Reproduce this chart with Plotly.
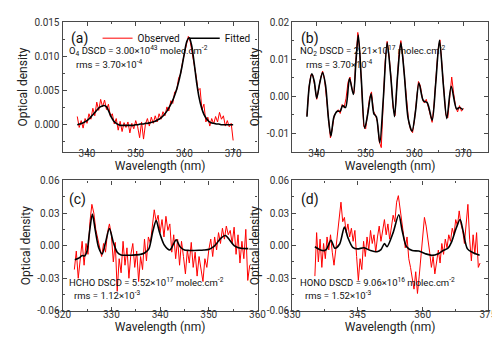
import numpy as np
import plotly.graph_objects as go
from plotly.subplots import make_subplots

# ---- panel (a): O4 ----
a_obs = [0.0012, -0.0004, 0.0006, -0.0005, 0.0009, 0.0002, 0.0016, 0.0008, 0.0024, 0.0013,
         0.0033, 0.0021, 0.0037, 0.0026, 0.0036, 0.0022, 0.0030, 0.0012, 0.0016, 0.0001,
         0.0009, -0.0008, 0.0005, -0.0010, 0.0003, -0.0004, 0.0004, -0.0012, 0.0002, -0.0006,
         0.0006, -0.0003, -0.0019, 0.0004, -0.0021, 0.0001, 0.0009, -0.0002, 0.0011, 0.0002,
         0.0013, 0.0004, 0.0016, 0.0008, 0.0019, 0.0013, 0.0026, 0.0020, 0.0035, 0.0031,
         0.0048, 0.0050, 0.0068, 0.0074, 0.0091, 0.0104, 0.0121, 0.0129, 0.0121, 0.0106,
         0.0086, 0.0071, 0.0050, 0.0053, 0.0022, 0.0030, 0.0004, 0.0011, -0.0002, 0.0009,
         0.0001, 0.0012, 0.0004, 0.0018, 0.0008, 0.0013, -0.0002, 0.0006, -0.0003, 0.0002,
         -0.0023]
a_fit = [0.0000, 0.0001, 0.0002, 0.0004, 0.0006, 0.0009, 0.0013, 0.0017, 0.0021, 0.0025,
         0.0027, 0.0028, 0.0026, 0.0019, 0.0011, 0.0005, 0.0002, 0.0000, -0.0001, -0.0001,
         -0.0001, -0.0001, -0.0001, -0.0001, 0.0000, 0.0000, 0.0001, 0.0001, 0.0002, 0.0002,
         0.0003, 0.0004, 0.0005, 0.0007, 0.0009, 0.0012, 0.0016, 0.0021, 0.0027, 0.0034,
         0.0043, 0.0054, 0.0068, 0.0085, 0.0105, 0.0122, 0.0127, 0.0115, 0.0090, 0.0062,
         0.0040, 0.0025, 0.0015, 0.0009, 0.0005, 0.0003, 0.0002, 0.0001, 0.0001, 0.0000,
         0.0000, 0.0000, 0.0000, 0.0000, 0.0000]
a_obs_x = np.linspace(338, 370, len(a_obs))
a_fit_x = np.linspace(338, 370, len(a_fit))

# ---- panel (b): NO2 ----
b_obs = [-0.0052, 0.0022, 0.0058, 0.0057, 0.0028, -0.0008, 0.0020, 0.0050, 0.0068, 0.0045,
         -0.0005, -0.0062, -0.0112, -0.0085, -0.0050, -0.0043, -0.0036, -0.0046, -0.0022, -0.0030,
         -0.0005, 0.0038, 0.0052, 0.0020, 0.0008, 0.0095, 0.0172, 0.0120, 0.0030, -0.0080,
         -0.0088, -0.0048, -0.0005, 0.0012, -0.0040, -0.0050, -0.0068, -0.0122, -0.0138, -0.0015,
         0.0095, 0.0148, 0.0110, 0.0048, -0.0030, -0.0052, 0.0035, 0.0112, 0.0150, 0.0108,
         0.0045, -0.0020, -0.0068, -0.0090, -0.0098, -0.0062, -0.0005, 0.0040, 0.0028, -0.0005,
         -0.0018, -0.0008, -0.0028, -0.0050, -0.0070, -0.0020, 0.0045, 0.0125, 0.0152, 0.0080,
         0.0015, -0.0050, -0.0058, 0.0010, 0.0052, 0.0008, -0.0028, -0.0042, -0.0025, -0.0040,
         -0.0032]
b_obs_x = np.linspace(338, 370, len(b_obs))
b_fit_x = [338.0, 338.5, 339.0, 339.5, 340.0, 340.6, 341.2, 341.8, 342.4, 342.9,
           343.5, 344.2, 344.8, 345.3, 345.9, 346.7, 347.5, 348.0, 348.5, 349.1,
           349.8, 350.4, 351.1, 351.7, 352.2, 352.9, 353.6, 354.4, 355.1, 355.9,
           356.5, 357.2, 357.9, 358.7, 359.5, 360.2, 360.9, 361.8, 362.6, 363.6,
           364.3, 365.1, 365.9, 366.6, 367.5, 368.6, 369.2, 369.9]
b_fit = [-0.0055, 0.0030, 0.0061, 0.0040, -0.0005, 0.0035, 0.0064, 0.0030, -0.0060, -0.0107,
         -0.0056, -0.0040, -0.0040, -0.0025, -0.0030, 0.0048, 0.0005, 0.0090, 0.0165, 0.0050,
         -0.0086, -0.0050, 0.0007, -0.0047, -0.0055, -0.0125, -0.0010, 0.0144, 0.0060, -0.0055,
         0.0050, 0.0144, 0.0060, -0.0060, -0.0094, -0.0040, 0.0036, -0.0012, -0.0017, -0.0064,
         0.0030, 0.0151, 0.0030, -0.0060, 0.0027, -0.0034, -0.0030, -0.0036]

# ---- panel (c): HCHO ----
c_obs = [-0.022, -0.005, -0.030, -0.012, 0.004, -0.018, 0.002, -0.008, 0.022, 0.038,
         0.030, 0.015, 0.006, -0.004, -0.010, 0.002, -0.006, 0.012, 0.020, 0.010,
         -0.015, 0.003, -0.042, -0.012, -0.025, 0.004, -0.018, -0.002, -0.030, -0.008,
         0.002, -0.020, -0.005, -0.033, -0.010, -0.022, 0.006, -0.014, 0.008, 0.002,
         0.018, 0.033, 0.022, 0.028, 0.012, 0.024, 0.008, 0.027, 0.014, 0.020,
         -0.006, 0.010, -0.012, 0.006, -0.018, 0.004, -0.010, -0.026, -0.004, -0.016,
         0.003, -0.020, -0.006, -0.028, -0.010, -0.022, -0.033, -0.012, -0.020, -0.004,
         0.006, -0.010, 0.008, -0.004, 0.012, 0.002, 0.016, 0.006, 0.018, 0.010,
         0.014, 0.002, 0.017, -0.008, 0.010, -0.016, 0.004, -0.012, 0.015, -0.032,
         -0.018]
c_obs_x = np.linspace(322.4, 358.4, len(c_obs))
c_fit_x = [322.5, 323.5, 324.0, 324.5, 325.0, 325.5, 326.1, 326.7, 327.4, 328.1,
           328.8, 329.6, 330.4, 331.2, 332.0, 333.0, 334.0, 335.0, 336.0, 336.9,
           337.7, 338.5, 339.2, 339.9, 340.9, 342.0, 342.7, 343.3, 344.1, 345.0,
           346.0, 347.0, 348.0, 349.0, 350.1, 351.0, 351.6, 352.5, 353.4, 354.3,
           355.2, 356.1, 357.0, 358.1]
c_fit = [-0.013, -0.011, -0.009, -0.0095, -0.005, 0.012, 0.029, 0.014, -0.002, -0.0077,
         0.003, 0.0157, 0.003, -0.006, -0.0085, -0.0088, -0.0088, -0.0085, -0.008, -0.0065,
         -0.003, 0.013, 0.023, 0.012, 0.0003, -0.004, 0.001, 0.0055, -0.001, -0.004,
         -0.0044, -0.0044, -0.0043, -0.004, -0.0033, -0.001, 0.002, 0.007, 0.0093, 0.005,
         0.000, -0.002, -0.0026, -0.0027]

# ---- panel (d): HONO ----
d_obs = [-0.028, 0.012, -0.015, 0.006, -0.020, 0.002, -0.012, 0.008, -0.004, 0.010,
         -0.006, -0.018, -0.004, 0.012, 0.030, 0.040, 0.022, 0.026, 0.012, 0.020,
         0.008, 0.016, 0.004, 0.014, -0.010, -0.032, -0.012, -0.022, 0.004, -0.010,
         0.008, -0.004, 0.014, 0.002, 0.010, -0.006, 0.008, 0.018, 0.004, 0.014,
         0.024, 0.010, 0.020, 0.006, 0.016, 0.028, 0.022, 0.040, 0.046, 0.034,
         0.020, 0.006, -0.002, 0.008, -0.012, -0.020, -0.030, -0.040, -0.024, -0.044,
         -0.028, -0.010, 0.012, 0.026, 0.018, 0.008, -0.006, -0.020, -0.010, -0.026,
         -0.014, -0.004, -0.016, 0.002, -0.008, 0.006, -0.002, 0.010, 0.004, 0.016,
         0.010, 0.024, 0.018, 0.032, 0.020, 0.014, 0.002, 0.022, 0.038, 0.006,
         -0.014, 0.010, -0.008, 0.012, -0.020, -0.016]
d_obs_x = np.linspace(335.2, 373.2, len(d_obs))
d_fit_x = [335.2, 336.9, 337.8, 338.9, 339.8, 340.9, 342.0, 342.8, 343.9, 345.0,
           346.5, 348.0, 349.5, 350.4, 351.2, 351.8, 353.2, 354.5, 355.3, 356.3,
           357.6, 359.1, 360.6, 362.1, 363.6, 364.7, 365.8, 366.6, 367.7, 368.6,
           369.3, 370.3, 371.6, 373.1]
d_fit = [-0.001, -0.0045, -0.0036, 0.005, -0.0024, 0.0015, 0.0172, 0.0074, -0.0015, -0.003,
         -0.002, -0.0045, -0.0056, -0.0036, 0.002, -0.001, 0.012, 0.0284, 0.0135, -0.001,
         -0.0045, -0.005, -0.0074, -0.0089, -0.0074, -0.0045, -0.0024, 0.003, 0.016, 0.024,
         0.0134, -0.003, -0.0065, -0.0089]

# tick labels
a_yticks = [0.0, 0.005, 0.010, 0.015]
a_ytext = ["0.000", "0.005", "0.010", "0.015"]
b_yticks = [-0.01, 0.0, 0.01, 0.02]
b_ytext = ["-0.01", "0.00", "0.01", "0.02"]
cd_yticks = [-0.06, -0.03, 0.0, 0.03, 0.06]
cd_ytext = ["-0.06", "-0.03", "0.00", "0.03", "0.06"]

W, H = 500, 340
FONT = "Roboto"
AX = "#4a4a4a"

fig = make_subplots(rows=2, cols=2)

panels = [
    (1, 1, a_obs_x, a_obs, a_fit_x, a_fit, True),
    (1, 2, b_obs_x, b_obs, b_fit_x, b_fit, False),
    (2, 1, c_obs_x, c_obs, c_fit_x, c_fit, False),
    (2, 2, d_obs_x, d_obs, d_fit_x, d_fit, False),
]
for r, c, ox, oy, fx, fy, leg in panels:
    fig.add_trace(go.Scatter(x=ox, y=oy, mode="lines", name="Observed",
                             line=dict(color="#ff0000", width=1), showlegend=leg), row=r, col=c)
    fig.add_trace(go.Scatter(x=fx, y=fy, mode="lines", name="Fitted",
                             line=dict(color="black", width=1.6, shape="spline", smoothing=0.8),
                             showlegend=leg), row=r, col=c)

def px(x):
    return x / W

def py(y):
    return 1 - y / H

common = dict(showline=True, linecolor=AX, linewidth=1.3, mirror="allticks",
              ticks="inside", ticklen=4, tickcolor=AX, showgrid=False, zeroline=False,
              tickfont=dict(family=FONT, size=10, color="#333"),
              title_font=dict(family=FONT, size=12, color="#222"))

xdom = {1: [px(48.3), px(250)], 2: [px(286), px(488.5)]}
ydom = {1: [py(142.7), py(8.3)], 2: [py(306.8), py(172)]}

# range, first major tick, major step, minor step
xr = {(1, 1): ([335, 375], 340, 10, 5), (1, 2): ([335, 375], 340, 10, 5),
      (2, 1): ([320, 360], 320, 10, 5), (2, 2): ([330, 375], 330, 15, 7.5)}
yr = {(1, 1): ([-0.004, 0.015], a_yticks, a_ytext, 0.0025),
      (1, 2): ([-0.015, 0.02], b_yticks, b_ytext, 0.005),
      (2, 1): ([-0.06, 0.06], cd_yticks, cd_ytext, 0.015),
      (2, 2): ([-0.06, 0.06], cd_yticks, cd_ytext, 0.015)}

for (r, c), (rng, t0, dt, mdt) in xr.items():
    fig.update_xaxes(domain=xdom[c], range=rng, dtick=dt, tick0=t0,
                     minor=dict(dtick=mdt, tick0=t0, ticks="inside", ticklen=2, tickcolor=AX),
                     ticklabelstandoff=-8 if r == 1 else -6,
                     title_text="Wavelength (nm)", title_standoff=0, row=r, col=c, **common)
for (r, c), (rng, tv, tt, mdt) in yr.items():
    fig.update_yaxes(domain=ydom[r], range=rng, tickmode="array", tickvals=tv, ticktext=tt,
                     minor=dict(dtick=mdt, tick0=tv[0], ticks="inside", ticklen=2, tickcolor=AX),
                     title_text="Optical density", title_standoff=4, row=r, col=c, **common)

labels = [
    ("(a)", 55, 25, 14), ("(b)", 293, 25, 14), ("(c)", 53, 192, 14), ("(d)", 293, 192, 14),
    ("O<sub>4</sub> DSCD = 3.00×10<sup>43</sup> molec.cm<sup>-2</sup>", 53, 38, 9.5),
    ("rms = 3.70×10<sup>-4</sup>", 60, 52, 9.5),
    ("NO<sub>2</sub> DSCD = 2.21×10<sup>17</sup> molec.cm<sup>-2</sup>", 292, 38, 9.5),
    ("rms = 3.70×10<sup>-4</sup>", 298, 52, 9.5),
    ("HCHO DSCD = 5.52×10<sup>17</sup> molec.cm<sup>-2</sup>", 53, 277, 9.5),
    ("rms = 1.12×10<sup>-3</sup>", 58, 290, 9.5),
    ("HONO DSCD = 9.06×10<sup>16</sup> molec.cm<sup>-2</sup>", 292, 277, 9.5),
    ("rms = 1.52×10<sup>-3</sup>", 297, 290, 9.5),
]
for txt, x, y, s in labels:
    fig.add_annotation(text=txt, x=px(x), y=py(y), xref="paper", yref="paper",
                       xanchor="left", yanchor="middle", showarrow=False,
                       font=dict(family=FONT, size=s, color="#111"))

fig.update_layout(
    width=W, height=H, margin=dict(l=0, r=0, t=0, b=0),
    paper_bgcolor="white", plot_bgcolor="white",
    legend=dict(orientation="h", x=px(248), xanchor="right", y=py(10), yanchor="top",
                font=dict(family=FONT, size=10, color="#111"), bgcolor="rgba(0,0,0,0)",
                itemwidth=30, tracegroupgap=0),
)

fig.write_html("out.html")
